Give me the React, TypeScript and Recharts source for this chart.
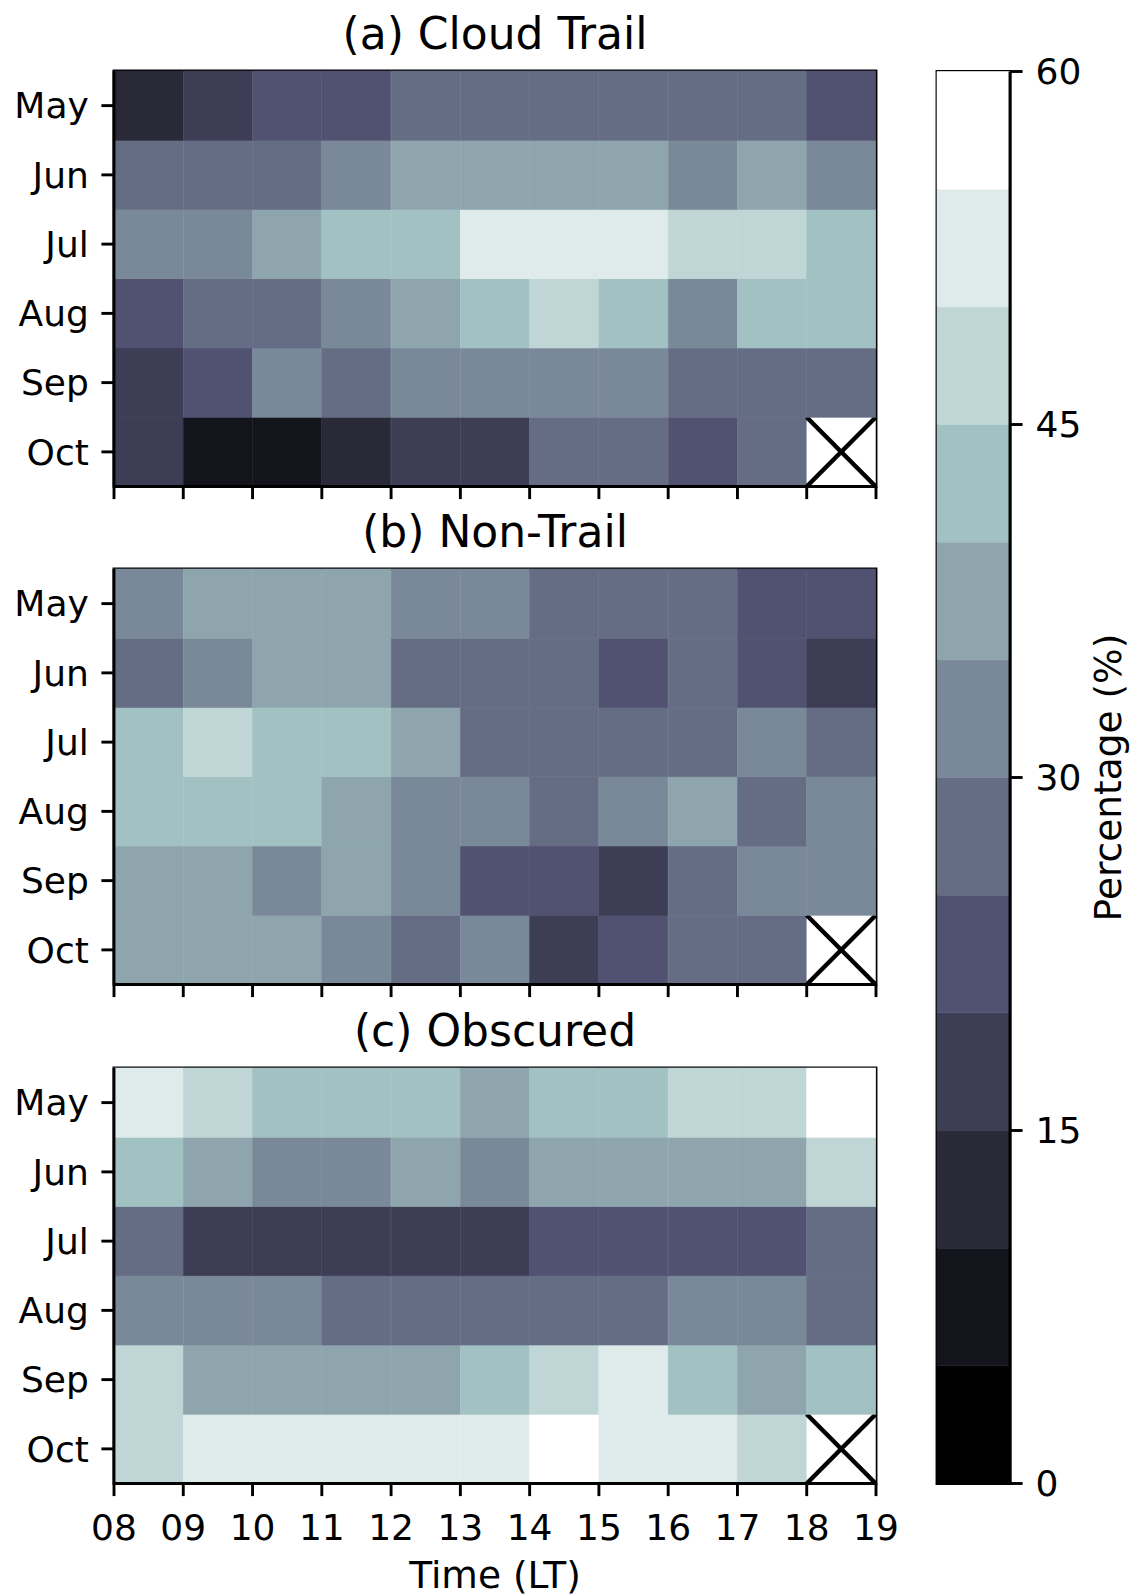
import React from 'react';
import { ComposedChart, BarChart, Bar, XAxis, YAxis, ReferenceArea } from 'recharts';

// Row labels (top to bottom) and hourly bins (start hour of each bin)
const MONTHS = ['May', 'Jun', 'Jul', 'Aug', 'Sep', 'Oct'];
const HOURS = [8, 9, 10, 11, 12, 13, 14, 15, 16, 17, 18];
const HOUR_TICKS = [8, 9, 10, 11, 12, 13, 14, 15, 16, 17, 18, 19];
const HOUR_DOMAIN = [8, 19];
const CB_TICKS = [0, 15, 30, 45, 60];
const CB_MAX = 60;
const LEVEL_STEP = 5;

// 'bone' colormap sampled into 12 discrete levels (0-5, 5-10, ..., 55-60 %)
const BONE_12 = [
  '#000000', '#14141c', '#292938', '#3d3d55', '#515171', '#656d85',
  '#7a899a', '#8ea5ae', '#a2c1c2', '#c0d6d6', '#dfebeb', '#ffffff',
];

// Percentage of occurrence per month (rows May..Oct) and hour (08..18 LT); null = no data
const CLOUD_TRAIL: (number | null)[][] = [
  [12.4, 17.8, 22.1, 23.6, 27.2, 28.5, 26.9, 27.7, 28.9, 26.4, 23.0],
  [26.1, 27.4, 28.8, 31.6, 38.2, 37.1, 36.4, 35.9, 33.8, 37.5, 32.9],
  [32.4, 31.1, 36.7, 43.2, 42.5, 51.6, 53.4, 52.7, 47.9, 48.6, 41.8],
  [22.6, 26.3, 28.1, 33.4, 37.8, 42.1, 47.2, 43.6, 34.1, 42.9, 41.3],
  [17.2, 23.5, 31.9, 28.4, 33.1, 32.6, 34.2, 33.7, 26.8, 27.9, 28.3],
  [16.4, 8.2, 7.6, 13.9, 18.1, 17.4, 26.2, 27.1, 22.8, 25.9, null],
];

const NON_TRAIL: (number | null)[][] = [
  [32.8, 37.4, 36.9, 38.1, 33.2, 31.7, 28.4, 27.6, 26.9, 23.8, 22.4],
  [27.9, 33.6, 37.2, 36.5, 28.2, 26.7, 27.4, 22.9, 27.1, 23.3, 18.6],
  [42.7, 46.3, 43.9, 44.1, 36.8, 27.3, 28.1, 26.5, 27.8, 31.4, 28.6],
  [43.5, 42.8, 44.2, 37.3, 32.6, 33.9, 26.4, 32.2, 38.7, 27.5, 31.8],
  [36.2, 37.6, 32.4, 38.4, 31.3, 23.7, 22.6, 18.9, 26.3, 31.5, 32.7],
  [37.1, 36.4, 38.6, 33.4, 28.7, 32.1, 17.5, 22.2, 27.8, 26.6, null],
];

const OBSCURED: (number | null)[][] = [
  [52.3, 47.1, 43.6, 42.4, 41.8, 38.9, 42.7, 43.3, 46.8, 47.5, 56.2],
  [43.1, 37.6, 33.2, 32.5, 36.8, 32.9, 38.1, 37.4, 36.6, 38.3, 46.4],
  [27.4, 18.3, 17.6, 16.9, 17.8, 18.7, 23.1, 22.4, 21.9, 23.6, 26.8],
  [33.5, 32.1, 31.4, 28.6, 27.3, 28.9, 26.4, 27.7, 31.2, 32.8, 27.9],
  [47.6, 38.1, 37.4, 36.3, 37.8, 42.6, 46.1, 51.2, 43.4, 37.9, 42.2],
  [46.7, 53.1, 52.4, 51.8, 53.6, 52.2, 57.4, 51.6, 52.9, 48.3, null],
];

const FONT = 'DejaVu Sans';
const TEXT = '#000';
const SPINE = 2.9;
const TICK_LEN = 12.6;
const TICK_FONT = 36;
const LABEL_FONT = 37.5;
const TITLE_FONT = 44;

const colourOf = (v: number) =>
  BONE_12[Math.max(0, Math.min(BONE_12.length - 1, Math.floor(v / LEVEL_STEP)))];

const pad2 = (h: number) => String(h).padStart(2, '0');

// One row per hour bin; each month occupies one unit of the stacked column
const gridRows = HOURS.map((h, idx) => {
  const row: Record<string, number | string> = { hour: pad2(h), h, idx };
  MONTHS.forEach((m) => {
    row[m] = 1;
  });
  return row;
});

// Month rows stacked from the bottom (Oct) to the top (May)
const STACK_ORDER = [...MONTHS].reverse();
const ROW_TICKS = MONTHS.map((_, i) => i + 0.5);
const rowLabel = (v: number) => STACK_ORDER[Math.floor(v)] ?? '';

const makeCellShape = (values: (number | null)[][], monthIdx: number) => (props: any) => {
  const { x, y, width, height, payload } = props;
  const v = values[monthIdx][payload.idx];
  const top = Math.min(y, y + height);
  const h = Math.abs(height);
  if (v == null) {
    return (
      <g>
        <rect x={x} y={top} width={width} height={h} fill="#ffffff" />
        <line x1={x} y1={top} x2={x + width} y2={top + h} stroke="#000" strokeWidth={4.5} />
        <line x1={x + width} y1={top} x2={x} y2={top + h} stroke="#000" strokeWidth={4.5} />
      </g>
    );
  }
  const c = colourOf(v);
  return <rect x={x} y={top} width={width} height={h} fill={c} stroke={c} strokeWidth={0.6} />;
};

const PANEL_W = 900;
const PLOT_TOP = 71;
const PLOT_H = 415.5;

function Panel({
  title,
  values,
  top,
  height,
  showTimeLabels,
}: {
  title: string;
  values: (number | null)[][];
  top: number;
  height: number;
  showTimeLabels: boolean;
}) {
  return (
    <div style={{ position: 'absolute', left: 0, top, width: PANEL_W, height }}>
      <ComposedChart
        width={PANEL_W}
        height={height}
        data={gridRows}
        margin={{ top: PLOT_TOP, right: 24, left: 0, bottom: 0 }}
        barCategoryGap={0}
        barGap={0}
      >
        <XAxis
          xAxisId="time"
          dataKey="h"
          type="number"
          domain={HOUR_DOMAIN}
          ticks={HOUR_TICKS}
          allowDataOverflow
          interval={0}
          height={height - PLOT_TOP - PLOT_H}
          tickSize={TICK_LEN}
          tickMargin={18}
          tickFormatter={(v: number) => (showTimeLabels ? pad2(v) : '')}
          axisLine={{ stroke: '#000', strokeWidth: SPINE }}
          tickLine={{ stroke: '#000', strokeWidth: SPINE }}
          tick={{ fill: TEXT, fontSize: TICK_FONT, fontFamily: FONT }}
          label={
            showTimeLabels
              ? { value: 'Time (LT)', position: 'insideBottom', offset: 8, fill: TEXT, fontSize: LABEL_FONT, fontFamily: FONT }
              : undefined
          }
        />
        <XAxis xAxisId="cells" dataKey="hour" type="category" hide height={0} />
        <YAxis
          yAxisId="m"
          type="number"
          domain={[0, MONTHS.length]}
          ticks={ROW_TICKS}
          interval={0}
          width={114}
          tickSize={TICK_LEN}
          tickMargin={12.6}
          tickFormatter={rowLabel}
          axisLine={{ stroke: '#000', strokeWidth: SPINE }}
          tickLine={{ stroke: '#000', strokeWidth: SPINE }}
          tick={{ fill: TEXT, fontSize: TICK_FONT, fontFamily: FONT }}
        />
        {STACK_ORDER.map((m) => (
          <Bar
            key={m}
            xAxisId="cells"
            yAxisId="m"
            dataKey={m}
            stackId="grid"
            shape={makeCellShape(values, MONTHS.indexOf(m))}
            isAnimationActive={false}
          />
        ))}
        <ReferenceArea
          xAxisId="cells"
          yAxisId="m"
          y1={0}
          y2={MONTHS.length}
          fill="none"
          stroke="#000"
          strokeWidth={SPINE}
          ifOverflow="visible"
          label={{ value: title, position: 'top', offset: 21.6, fill: TEXT, fontSize: TITLE_FONT, fontFamily: FONT }}
        />
      </ComposedChart>
    </div>
  );
}

// Colour bar: one stacked column of 12 equal segments
const CB_KEYS = BONE_12.map((_, i) => `l${i}`);
const cbRow: Record<string, number | string> = { name: 'cb' };
CB_KEYS.forEach((k) => {
  cbRow[k] = LEVEL_STEP;
});
const cbData = [cbRow];

const cbLabel = (props: any) => {
  const vb = props.viewBox || {};
  const cx = vb.x + 111;
  const cy = vb.y + vb.height / 2;
  return (
    <text
      x={cx}
      y={cy}
      transform={`rotate(-90, ${cx}, ${cy})`}
      textAnchor="middle"
      fill={TEXT}
      fontSize={LABEL_FONT}
      fontFamily={FONT}
    >
      Percentage (%)
    </text>
  );
};

function ColourBar() {
  const W = 241;
  const H = 1596;
  return (
    <div style={{ position: 'absolute', left: 900, top: 0, width: W, height: H }}>
      <BarChart
        width={W}
        height={H}
        data={cbData}
        margin={{ top: 71.5, right: 0, left: 37, bottom: H - 1483.5 }}
        barCategoryGap={0}
        barGap={0}
      >
        <XAxis dataKey="name" type="category" hide height={0} />
        <YAxis
          orientation="right"
          type="number"
          domain={[0, CB_MAX]}
          ticks={CB_TICKS}
          interval={0}
          width={131}
          tickSize={TICK_LEN}
          tickMargin={13}
          axisLine={{ stroke: '#000', strokeWidth: SPINE }}
          tickLine={{ stroke: '#000', strokeWidth: SPINE }}
          tick={{ fill: TEXT, fontSize: TICK_FONT, fontFamily: FONT }}
          label={cbLabel}
        />
        {CB_KEYS.map((k, i) => (
          <Bar
            key={k}
            dataKey={k}
            stackId="cb"
            fill={BONE_12[i]}
            stroke={BONE_12[i]}
            strokeWidth={0.6}
            isAnimationActive={false}
          />
        ))}
        <ReferenceArea
          y1={0}
          y2={CB_MAX}
          fill="none"
          stroke="#000"
          strokeWidth={SPINE}
          ifOverflow="visible"
        />
      </BarChart>
    </div>
  );
}

export default function App() {
  return (
    <div
      style={{
        position: 'absolute',
        left: 0,
        top: 0,
        width: 1141,
        height: 1596,
        overflow: 'hidden',
        background: '#ffffff',
        fontFamily: FONT,
      }}
    >
      <Panel title="(a) Cloud Trail" values={CLOUD_TRAIL} top={0} height={500} showTimeLabels={false} />
      <Panel title="(b) Non-Trail" values={NON_TRAIL} top={498} height={500} showTimeLabels={false} />
      <Panel title="(c) Obscured" values={OBSCURED} top={997} height={599} showTimeLabels={true} />
      <ColourBar />
    </div>
  );
}
